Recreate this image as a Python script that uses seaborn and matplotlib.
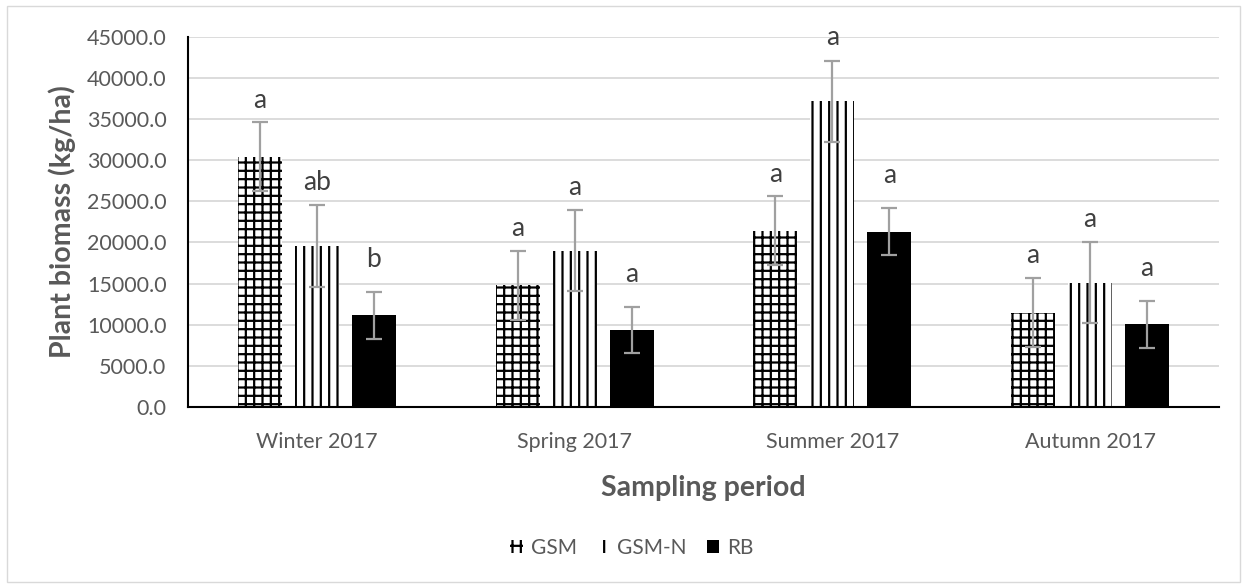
import matplotlib
matplotlib.use("Agg")
import matplotlib.pyplot as plt
from matplotlib.patches import Patch, Rectangle
from matplotlib.ticker import FormatStrFormatter
import seaborn as sns
import pandas as pd

# ---- data ----
seasons = ["Winter 2017", "Spring 2017", "Summer 2017", "Autumn 2017"]
treatments = ["GSM", "GSM-N", "RB"]
gsm = [30400, 14800, 21400, 11450]
gsm_n = [19550, 19000, 37150, 15100]
rb = [11150, 9350, 21300, 10050]
gsm_err = [4200, 4200, 4200, 4200]
gsm_n_err = [4950, 4950, 4950, 4950]
rb_err = [2830, 2830, 2830, 2830]
letters_gsm = ["a", "a", "a", "a"]
letters_gsm_n = ["ab", "a", "a", "a"]
letters_rb = ["b", "a", "a", "a"]
y_ticks = [0, 5000, 10000, 15000, 20000, 25000, 30000, 35000, 40000, 45000]

rows = []
for t, vals in zip(treatments, [gsm, gsm_n, rb]):
    for s, v in zip(seasons, vals):
        rows.append({"season": s, "treatment": t, "biomass": v})
df = pd.DataFrame(rows)

sns.set_theme(style="white")
plt.rcParams["font.family"] = ["Lato", "DejaVu Sans"]
plt.rcParams["hatch.linewidth"] = 1.6
plt.rcParams["hatch.color"] = "black"

W, H = 1247, 588
fig = plt.figure(figsize=(W / 100, H / 100), dpi=100)
ax_left, ax_right, ax_top, ax_bot = 188, 1219, 36.7, 407
ax = fig.add_axes([ax_left / W, 1 - ax_bot / H, (ax_right - ax_left) / W, (ax_bot - ax_top) / H])

sns.barplot(data=df, x="season", y="biomass", hue="treatment",
            order=seasons, hue_order=treatments,
            palette={"GSM": "white", "GSM-N": "white", "RB": "black"},
            saturation=1, width=0.663, gap=0.23, errorbar=None,
            legend=False, ax=ax)

hatches = ["++", "||", ""]
errs = [gsm_err, gsm_n_err, rb_err]
letters = [letters_gsm, letters_gsm_n, letters_rb]
label_offsets_pt = [16, 16.5, 23.5]
for cont, h, err, lab, off in zip(ax.containers, hatches, errs, letters, label_offsets_pt):
    xs, ys = [], []
    for bar in cont:
        bar.set_hatch(h)
        bar.set_edgecolor("black")
        bar.set_linewidth(0)
        xs.append(bar.get_x() + bar.get_width() / 2)
        ys.append(bar.get_height())
    _, caps, bars = ax.errorbar(xs, ys, yerr=err, fmt="none", ecolor="#a0a0a0",
                                elinewidth=1.6, capsize=5.5, capthick=1.6, zorder=5)
    for c in caps:
        c.set_color("#7a7a7a")
    for x, y, e, t in zip(xs, ys, err, lab):
        ax.annotate(t, (x, y + e), xytext=(0, off), textcoords="offset points",
                    ha="center", va="center", fontsize=19, color="#404040")

ax.set_ylim(0, 45000)
ax.set_xlim(-0.5, 3.5)
ax.set_yticks(y_ticks)
ax.yaxis.set_major_formatter(FormatStrFormatter("%.1f"))
ax.yaxis.grid(True, color="#d9d9d9", linewidth=1.3)
ax.set_axisbelow(True)
for s in ["top", "right"]:
    ax.spines[s].set_visible(False)
for s in ["left", "bottom"]:
    ax.spines[s].set_color("black")
    ax.spines[s].set_linewidth(1.5)
ax.tick_params(axis="y", length=0, pad=15.5, labelsize=15.5, labelcolor="#595959")
ax.tick_params(axis="x", length=0, pad=18, labelsize=15.5, labelcolor="#595959")

ax.set_ylabel("Plant biomass (kg/ha)", fontsize=20.5, fontweight="bold", color="#595959")
ax.set_xlabel("Sampling period", fontsize=20.5, fontweight="bold", color="#595959")
ax.yaxis.label.set_verticalalignment("center")
ax.xaxis.label.set_verticalalignment("center")
axh = ax_bot - ax_top
axw = ax_right - ax_left
ax.yaxis.set_label_coords((62 - ax_left) / axw, 0.5)
ax.xaxis.set_label_coords(0.5, (ax_bot - 488) / axh)

handles = [Patch(facecolor="white", edgecolor="black", hatch="++", linewidth=0),
           Patch(facecolor="white", edgecolor="black", hatch="||", linewidth=0),
           Patch(facecolor="black", edgecolor="black", linewidth=0)]
fig.legend(handles, treatments, loc="center", bbox_to_anchor=(632 / W, 1 - 548 / H),
           ncol=3, frameon=False, handlelength=0.6, handleheight=0.6,
           handletextpad=0.4, columnspacing=0.95, fontsize=15, labelcolor="#595959")

fig.patches.append(Rectangle((6.5 / W, 6 / H), (1240 - 6.5) / W, (582 - 6) / H,
                             transform=fig.transFigure, fill=False,
                             edgecolor="#d9d9d9", linewidth=1))

fig.savefig("out.png", dpi=100)
